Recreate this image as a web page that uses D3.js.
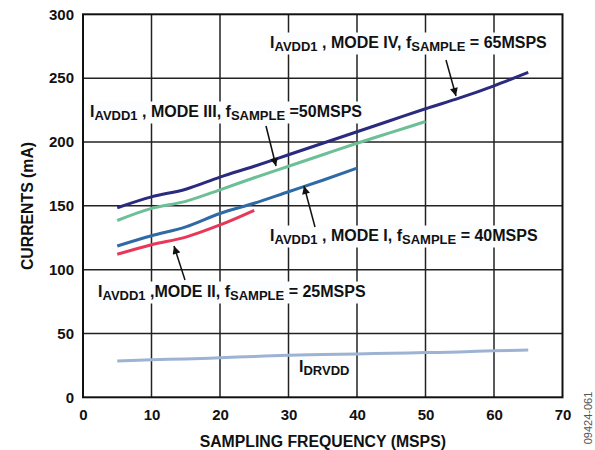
<!DOCTYPE html>
<html><head><meta charset="utf-8">
<script src="https://cdn.jsdelivr.net/npm/d3@7"></script>
<style>body{margin:0;background:#fff}svg{display:block}</style>
</head><body><svg id="c" width="595" height="450"></svg>
<script>
const freq = [5,10,15,20,25,30,35,40,45,50,55,60,65];
const modeIV = [148.5,157,163,172.5,181,190,199,208,217,226,234.5,244,254.5];
const modeIII = [138.5,148,153.5,162.5,172,181,190,199,207.5,216];
const modeI = [118.5,126.5,133.5,144,152,161,170,179.5];
const modeII = [112,119.5,125.5,135,146.5];
const idrvdd = [28.5,29.5,30,31,32,33,33.5,34,34.5,35,35.5,36.5,37];
const xTicks = [0,10,20,30,40,50,60,70];
const yTicks = [0,50,100,150,200,250,300];

const svg = d3.select("#c");
const x = d3.scaleLinear().domain([0,70]).range([83,562.5]);
const y = d3.scaleLinear().domain([0,300]).range([397.3,14.3]);
const F = "'Liberation Sans', Arial, sans-serif";

// grid
svg.append("g").selectAll("line").data(xTicks.slice(1,-1)).join("line")
  .attr("x1",d=>x(d)).attr("x2",d=>x(d)).attr("y1",y(0)).attr("y2",y(300))
  .attr("stroke","#222").attr("stroke-width",1.5);
svg.append("g").selectAll("line").data(yTicks.slice(1,-1)).join("line")
  .attr("y1",d=>y(d)).attr("y2",d=>y(d)).attr("x1",x(0)).attr("x2",x(70))
  .attr("stroke","#222").attr("stroke-width",1.5);

// axes
const xAxis = d3.axisBottom(x).tickValues(xTicks).tickSize(0).tickPadding(12);
const gx = svg.append("g").attr("transform",`translate(0,${y(0)})`).call(xAxis);
gx.select(".domain").remove();
gx.selectAll("text").attr("font-family",F).attr("font-weight","bold").attr("font-size","15px").attr("fill","#111");
const yAxis = d3.axisLeft(y).tickValues(yTicks).tickSize(0).tickPadding(9);
const gy = svg.append("g").attr("transform",`translate(${x(0)},0)`).call(yAxis);
gy.select(".domain").remove();
gy.selectAll("text").attr("font-family",F).attr("font-weight","bold").attr("font-size","15px").attr("fill","#111");

// lines
const series = [
  {v:idrvdd, c:"#9db3d3"},
  {v:modeII, c:"#e8385a"},
  {v:modeI, c:"#2f6aa6"},
  {v:modeIII, c:"#6cbf96"},
  {v:modeIV, c:"#2a2a7e"}
];
const line = d3.line().x((d,i)=>x(freq[i])).y(d=>y(d)).curve(d3.curveMonotoneX);
svg.append("g").selectAll("path").data(series).join("path")
  .attr("d",d=>line(d.v)).attr("fill","none").attr("stroke",d=>d.c).attr("stroke-width",3);

// border
svg.append("rect").attr("x",x(0)).attr("y",y(300)).attr("width",x(70)-x(0)).attr("height",y(0)-y(300))
  .attr("fill","none").attr("stroke","#111").attr("stroke-width",2);

// labels
function label(px,py,parts){
  const g = svg.append("g");
  const t = g.append("text").attr("x",px).attr("y",py).attr("font-family",F).attr("font-weight","bold").attr("font-size","16px").attr("fill","#111");
  parts.forEach(p=>{
    if(p.sub){ t.append("tspan").attr("dy",3).attr("font-size","13px").text(p.t); }
    else { t.append("tspan").attr("dy",p.after?-3:0).text(p.t); }
  });
  const b = t.node().getBBox();
  g.insert("rect","text").attr("x",b.x-3).attr("y",b.y-1).attr("width",b.width+6).attr("height",b.height+2).attr("fill","#fbfdff");
  return t;
}
label(270,47.5,[{t:"I"},{t:"AVDD1",sub:1},{t:" , MODE IV, f",after:1},{t:"SAMPLE",sub:1},{t:" = 65MSPS",after:1}]);
label(90,116.5,[{t:"I"},{t:"AVDD1",sub:1},{t:" , MODE III, f",after:1},{t:"SAMPLE",sub:1},{t:" =50MSPS",after:1}]);
label(270,240.5,[{t:"I"},{t:"AVDD1",sub:1},{t:" , MODE I, f",after:1},{t:"SAMPLE",sub:1},{t:" = 40MSPS",after:1}]);
label(98,296.5,[{t:"I"},{t:"AVDD1",sub:1},{t:" ,MODE II, f",after:1},{t:"SAMPLE",sub:1},{t:" = 25MSPS",after:1}]);
label(299,372,[{t:"I"},{t:"DRVDD",sub:1}]);

// arrows
const defs = svg.append("defs");
defs.append("marker").attr("id","ah").attr("viewBox","0 0 10 10").attr("refX",10).attr("refY",5)
  .attr("markerWidth",10).attr("markerHeight",8).attr("markerUnits","userSpaceOnUse").attr("orient","auto")
  .append("path").attr("d","M0,0L10,5L0,10Z").attr("fill","#111");
const arrows = [[446,60,456,96],[266,126,276,166],[315,227,304,186],[185,280,174,246]];
svg.append("g").selectAll("line").data(arrows).join("line")
  .attr("x1",d=>d[0]).attr("y1",d=>d[1]).attr("x2",d=>d[2]).attr("y2",d=>d[3])
  .attr("stroke","#111").attr("stroke-width",1.5).attr("marker-end","url(#ah)");

// axis titles
svg.append("text").attr("x",322.8).attr("y",447).attr("text-anchor","middle").attr("font-family",F)
  .attr("font-weight","bold").attr("font-size","15.8px").attr("fill","#111").text("SAMPLING FREQUENCY (MSPS)");
svg.append("text").attr("transform","translate(33,206) rotate(-90)").attr("text-anchor","middle").attr("font-family",F)
  .attr("font-weight","bold").attr("font-size","15.8px").attr("fill","#111").text("CURRENTS (mA)");
svg.append("text").attr("transform","translate(592,418) rotate(-90)").attr("text-anchor","middle").attr("font-family",F)
  .attr("font-size","11px").attr("fill","#555").text("09424-061");
</script></body></html>
